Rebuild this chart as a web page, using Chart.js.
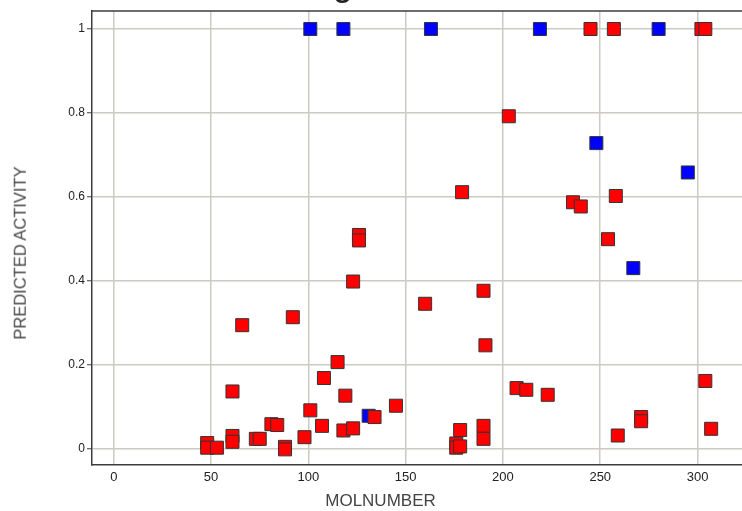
<!DOCTYPE html>
<html>
<head>
<meta charset="utf-8">
<script src="https://cdn.jsdelivr.net/npm/chart.js@4/dist/chart.umd.min.js"></script>
<style>
  html, body { margin: 0; padding: 0; background: #fff; overflow: hidden; }
  #wrap { position: relative; width: 742px; height: 511px; overflow: hidden; }
  canvas { position: absolute; left: 0; top: 0; }
  .lbl { position: absolute; font-family: 'Liberation Sans', Arial, sans-serif; color: #444; white-space: nowrap; line-height: 1; }
  #title { left: 224px; top: -35px; font-size: 36px; color: #222; }
  #xtitle { left: 380.5px; top: 500px; transform: translate(-50%, -50%); font-size: 17px; }
  #ytitle { left: 20px; top: 253px; transform: translate(-50%, -50%) rotate(-90deg); font-size: 16.5px; }
</style>
</head>
<body>
<div id="wrap">
  <canvas id="c" width="770" height="511"></canvas>
  <div class="lbl" id="title">Training Set</div>
  <div class="lbl" id="xtitle">MOLNUMBER</div>
  <div class="lbl" id="ytitle">PREDICTED ACTIVITY</div>
</div>
<script>
// Molecules drawn in red
const redMolNumber = [48, 48, 53, 61, 61, 61, 66, 73, 75, 81, 84, 88, 88, 92, 98, 101, 107, 108, 115, 118,
                      119, 123, 123, 126, 126, 134, 145, 160, 176, 176, 178, 178, 179, 190, 191, 190, 190, 203,
                      207, 212, 223, 236, 240, 245, 254, 257, 258, 259, 271, 271, 302, 304, 304, 307];
const redActivity  = [0.013, 0.002, 0.002, 0.136, 0.030, 0.016, 0.294, 0.023, 0.023, 0.058, 0.056, 0.004, -0.002, 0.313, 0.027, 0.091, 0.054, 0.168, 0.206, 0.043,
                      0.126, 0.048, 0.398, 0.509, 0.496, 0.075, 0.102, 0.345, 0.012, 0.002, 0.005, 0.044, 0.611, 0.376, 0.246, 0.054, 0.023, 0.792,
                      0.144, 0.140, 0.128, 0.587, 0.577, 1, 0.499, 1, 0.602, 0.031, 0.075, 0.065, 1, 1, 0.161, 0.047];

// Molecules drawn in blue
const blueMolNumber = [101, 118, 131, 163, 219, 248, 267, 280, 295];
const blueActivity  = [1, 1, 0.078, 1, 1, 0.728, 0.430, 1, 0.658];

// Axis ticks
const xTicks = [0, 50, 100, 150, 200, 250, 300];
const yTicks = [0, 0.2, 0.4, 0.6, 0.8, 1];

const toPoints = (xs, ys) => xs.map((x, i) => ({ x: x, y: ys[i] }));

const axisColor = '#3c3c3c';
const gridColor = '#cdcac2';
const tickFont = "'Liberation Sans', Arial, sans-serif";

// Line across the top of the plot area
const topFrame = {
  id: 'topFrame',
  afterDatasetsDraw(chart) {
    const { ctx, chartArea: a } = chart;
    ctx.save();
    ctx.strokeStyle = axisColor;
    ctx.lineWidth = 1.5;
    ctx.beginPath();
    ctx.moveTo(a.left, a.top);
    ctx.lineTo(a.right, a.top);
    ctx.stroke();
    ctx.restore();
  }
};

new Chart(document.getElementById('c'), {
  type: 'scatter',
  data: {
    datasets: [
      {
        label: 'red',
        data: toPoints(redMolNumber, redActivity),
        backgroundColor: '#ff0000',
        borderColor: '#333333',
        borderWidth: 1,
        pointStyle: 'rect',
        pointRadius: 9.2
      },
      {
        label: 'blue',
        data: toPoints(blueMolNumber, blueActivity),
        backgroundColor: '#0000ff',
        borderColor: '#333333',
        borderWidth: 1,
        pointStyle: 'rect',
        pointRadius: 9.2
      }
    ]
  },
  options: {
    responsive: false,
    animation: false,
    events: [],
    layout: { padding: { top: 11, left: 0, right: 0, bottom: 0 } },
    plugins: { legend: { display: false }, tooltip: { enabled: false }, title: { display: false } },
    scales: {
      x: {
        type: 'linear',
        min: -11.2,
        max: 332,
        afterFit(s) { s.height = 46; },
        afterBuildTicks(s) { s.ticks = xTicks.map(v => ({ value: v })); },
        grid: { color: gridColor, lineWidth: 1.5, drawTicks: false },
        border: { color: axisColor, width: 1.5 },
        ticks: { padding: 5, color: '#222', font: { family: tickFont, size: 13 }, maxRotation: 0,
                 callback: v => String(v) }
      },
      y: {
        type: 'linear',
        min: -0.0393,
        max: 1.0429,
        afterFit(s) { s.width = 92; },
        afterBuildTicks(s) { s.ticks = yTicks.map(v => ({ value: v })); },
        grid: { color: gridColor, lineWidth: 1.5, tickLength: 5, tickColor: axisColor, tickWidth: 1 },
        border: { color: axisColor, width: 1.5 },
        ticks: { padding: 2, color: '#222', font: { family: tickFont, size: 12 },
                 callback: v => String(v) }
      }
    }
  },
  plugins: [topFrame]
});
</script>
</body>
</html>
